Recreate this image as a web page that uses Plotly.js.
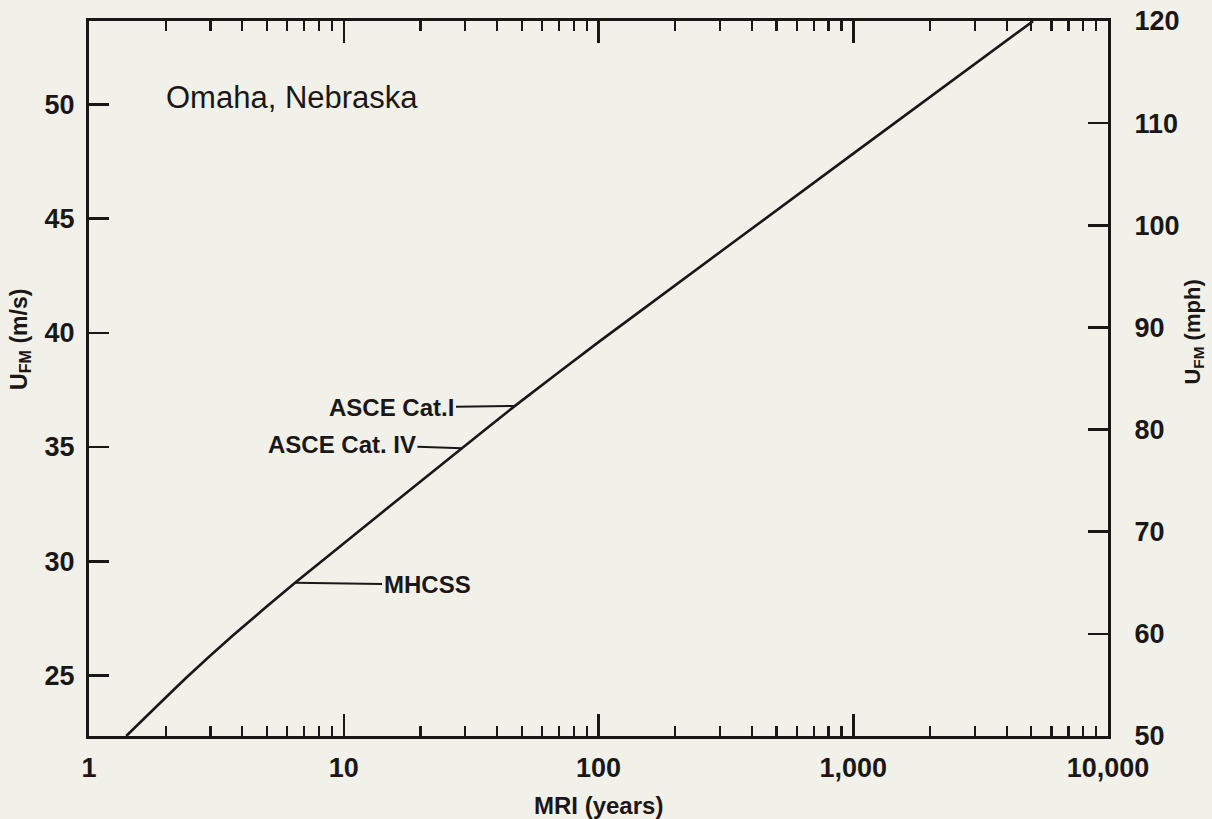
<!DOCTYPE html>
<html>
<head>
<meta charset="utf-8">
<script src="https://cdn.plot.ly/plotly-3.0.1.min.js"></script>
<style>html,body{margin:0;padding:0;background:#f1f1ea;}</style>
</head>
<body>
<div id="chart" style="width:1212px;height:819px;"></div>
<script>
// Curve: mean recurrence interval (years) vs fastest-mile wind speed (m/s)
const mriYears = [1.40, 2.42, 3.67, 6.44, 29.1, 47, 100, 1000, 5080];
const speedMs  = [22.35, 24.92, 26.75, 29.06, 34.95, 36.80, 39.59, 47.84, 53.64];

// Labelled points on the curve
const markLabels = ["ASCE Cat.I", "ASCE Cat. IV", "MHCSS"];
const markMri    = [47, 29.1, 6.44];
const markSpeed  = [36.80, 34.95, 29.06];

// Axes
const xTickVals = [1, 10, 100, 1000, 10000];
const xTickText = ["1", "10", "100", "1,000", "10,000"];
const xMinorVals = [2,3,4,5,6,7,8,9,20,30,40,50,60,70,80,90,200,300,400,500,600,700,800,900,2000,3000,4000,5000,6000,7000,8000,9000];
const yLeftTicks = [25, 30, 35, 40, 45, 50];
const yRightTicks = [50, 60, 70, 80, 90, 100, 110, 120];
const yLeftRange = [22.352, 53.645];   // = 50..120 mph
const yRightRange = [50, 120];

const ink = "#1c1717";
const font = "Liberation Sans, Arial, Helvetica, sans-serif";

const traces = [
  {x: mriYears, y: speedMs, type: "scatter", mode: "lines",
   line: {color: ink, width: 2.6, shape: "spline", smoothing: 0.4},
   xaxis: "x", yaxis: "y", hoverinfo: "skip", cliponaxis: true},
  {x: [1], y: [null], type: "scatter", mode: "lines", xaxis: "x", yaxis: "y2",
   showlegend: false, hoverinfo: "skip"}
];

const offsets = [[-123, 2], [-120, -4], [132, 2]];
const annotations = markLabels.map((t, i) => ({
  x: Math.log10(markMri[i]), y: markSpeed[i], xref: "x", yref: "y",
  text: "<b>" + t + "</b>", showarrow: true, arrowhead: 0, arrowwidth: 2,
  arrowcolor: ink, ax: offsets[i][0], ay: offsets[i][1], standoff: 0,
  font: {family: font, size: 24, color: ink}
}));
annotations.push(
  {xref: "paper", yref: "paper", x: 0.074, y: 0.893, xanchor: "left", yanchor: "middle",
   text: "Omaha, Nebraska", showarrow: false, font: {family: font, size: 31, color: ink}},
  {xref: "paper", yref: "paper", x: 0.5, y: -0.097, xanchor: "center", yanchor: "middle",
   text: "<b>MRI (years)</b>", showarrow: false, font: {family: font, size: 24, color: ink}},
  {xref: "paper", yref: "paper", x: -0.068, y: 0.555, xanchor: "center", yanchor: "middle",
   textangle: -90, text: "<b>U<sub>FM</sub> (m/s)</b>", showarrow: false,
   font: {family: font, size: 23, color: ink}},
  {xref: "paper", yref: "paper", x: 1.084, y: 0.565, xanchor: "center", yanchor: "middle",
   textangle: -90, text: "<b>U<sub>FM</sub> (mph)</b>", showarrow: false,
   font: {family: font, size: 22, color: ink}}
);

const layout = {
  width: 1212, height: 819,
  margin: {l: 89, r: 104, t: 21, b: 83},
  paper_bgcolor: "#f1f1ea", plot_bgcolor: "#f1f1ea",
  showlegend: false,
  xaxis: {
    type: "log", range: [0, 4], tickmode: "array", tickvals: xTickVals, ticktext: xTickText,
    ticks: "inside", ticklen: 22, tickwidth: 2.5, tickcolor: ink,
    showline: true, linecolor: ink, linewidth: 3, mirror: "ticks",
    showgrid: false, zeroline: false, ticklabelstandoff: 6,
    tickfont: {family: font, size: 27, color: ink, weight: "bold"},
    minor: {tickmode: "array", tickvals: xMinorVals, ticks: "inside", ticklen: 10,
            tickwidth: 2.2, tickcolor: ink, showgrid: false}
  },
  yaxis: {
    range: yLeftRange, tickmode: "array", tickvals: yLeftTicks,
    ticks: "inside", ticklen: 20, tickwidth: 2.5, tickcolor: ink,
    showline: true, linecolor: ink, linewidth: 3, showgrid: false, zeroline: false,
    ticklabelstandoff: 6,
    tickfont: {family: font, size: 27, color: ink, weight: "bold"}
  },
  yaxis2: {
    overlaying: "y", side: "right", anchor: "x",
    range: yRightRange, tickmode: "array", tickvals: yRightTicks,
    ticks: "inside", ticklen: 20, tickwidth: 2.5, tickcolor: ink,
    showline: true, linecolor: ink, linewidth: 3, showgrid: false, zeroline: false,
    ticklabelstandoff: 18,
    tickfont: {family: font, size: 27, color: ink, weight: "bold"}
  },
  annotations: annotations
};

Plotly.newPlot("chart", traces, layout, {staticPlot: true, displayModeBar: false});
</script>
</body>
</html>
